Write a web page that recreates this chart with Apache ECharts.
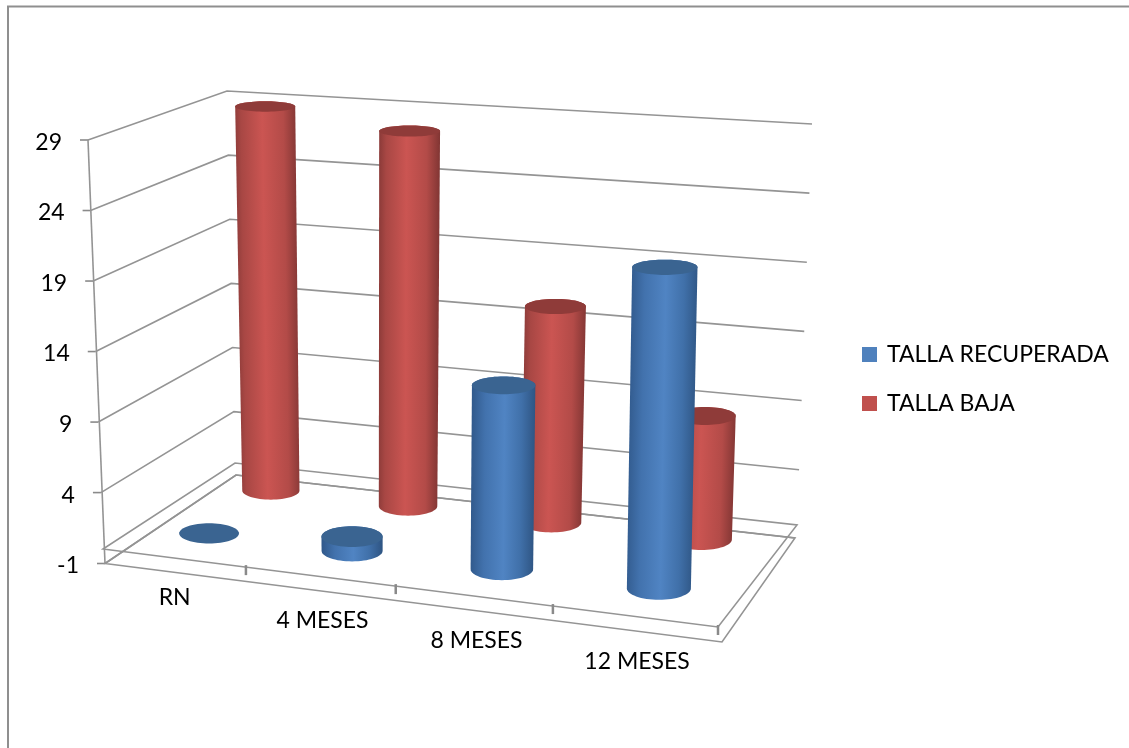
<!DOCTYPE html>
<html>
<head>
<meta charset="utf-8">
<style>html,body{margin:0;padding:0;background:#fff}#chart{width:1129px;height:748px}</style>
<script src="https://cdn.jsdelivr.net/npm/echarts@6/dist/echarts.min.js"></script>
</head>
<body>
<div id="chart"></div>
<script>
// Chart data
const categories = ['RN', '4 MESES', '8 MESES', '12 MESES'];
const tallaRecuperada = [0, 1, 12.7, 21.7];
const tallaBaja = [29, 27.8, 15.7, 8.8];
const valueTicks = [-1, 4, 9, 14, 19, 24, 29];

// Box of the 3D plot: corners in the order front-left, front-right, back-right, back-left.
const planeBottom = [[105, 563.5], [722, 642], [795, 538], [236, 475]];  // value -1
const planeFloor = [[103, 549], [718, 627], [797, 525], [235, 463]];     // value 0
const planeCeiling = [[88, 140], [725, 180], [812, 124], [227, 91]];     // value 29

// Depth of each series row and cylinder radius, in box units.
const rowBlue = 0.26, rowRed = 0.75;
const radiusAcross = 0.0515, radiusDepth = 0.11;

// Vertical distance of each category label below the front edge of the slab.
const categoryLabelDrop = [25, 29, 30, 30];

const FONT = 'Lato';
const FONT_SIZE = 23;
const LINE = '#949494';
const TICK = '#8a8a8a';

// Square-to-quad projective mapping.
function quadMap(q) {
  const [[x0, y0], [x1, y1], [x2, y2], [x3, y3]] = q;
  const dx1 = x1 - x2, dx2 = x3 - x2, sx = x0 - x1 + x2 - x3;
  const dy1 = y1 - y2, dy2 = y3 - y2, sy = y0 - y1 + y2 - y3;
  const den = dx1 * dy2 - dx2 * dy1;
  const g = (sx * dy2 - dx2 * sy) / den, h = (dx1 * sy - sx * dy1) / den;
  const a = x1 - x0 + g * x1, b = x3 - x0 + h * x3;
  const d = y1 - y0 + g * y1, e = y3 - y0 + h * y3;
  return (u, w) => {
    const k = g * u + h * w + 1;
    return [(a * u + b * w + x0) / k, (d * u + e * w + y0) / k];
  };
}
const mapBottom = quadMap(planeBottom), mapFloor = quadMap(planeFloor), mapCeiling = quadMap(planeCeiling);
const lerp = (p, q, s) => [p[0] + (q[0] - p[0]) * s, p[1] + (q[1] - p[1]) * s];

// Reads the axes of the hidden grid and returns a projector (u across, w depth, value).
function projector(params, api) {
  const cs = params.coordSys;
  const bottom = cs.y + cs.height;
  const level = v => (bottom - api.coord([0, v])[1]) / cs.height;
  const t0 = level(0);
  const project = (u, w, v) => {
    const t = level(v);
    return t >= t0
      ? lerp(mapFloor(u, w), mapCeiling(u, w), (t - t0) / (1 - t0))
      : lerp(mapBottom(u, w), mapFloor(u, w), t / t0);
  };
  const across = c => (api.coord([c, 0])[0] - cs.x) / cs.width;
  return { project, across };
}

function hull(points) {
  const p = points.slice().sort((a, b) => a[0] - b[0] || a[1] - b[1]);
  const cross = (o, a, b) => (a[0] - o[0]) * (b[1] - o[1]) - (a[1] - o[1]) * (b[0] - o[0]);
  const build = list => {
    const out = [];
    for (const q of list) {
      while (out.length > 1 && cross(out[out.length - 2], out[out.length - 1], q) <= 0) out.pop();
      out.push(q);
    }
    out.pop();
    return out;
  };
  return build(p).concat(build(p.slice().reverse()));
}

function cylinderRenderer(row, stops, capColor) {
  return function (params, api) {
    const { project, across } = projector(params, api);
    const c = api.value(0), v = api.value(1);
    const u = across(c);
    // Cylinder ends are level ellipses sized from the box at that height.
    const ring = value => {
      const m = project(u, row, value);
      const local = Math.abs(project(u + radiusAcross, row, value)[0] - project(u - radiusAcross, row, value)[0]) / 2;
      const overall = radiusAcross * Math.abs(project(1, row, value)[0] - project(0, row, value)[0]);
      const rx = (local + overall) / 2;
      const ry = Math.abs(project(u, row + radiusDepth, value)[1] - project(u, row - radiusDepth, value)[1]) / 2;
      const pts = [];
      for (let i = 0; i < 64; i++) {
        const a = i / 64 * Math.PI * 2;
        pts.push([m[0] + rx * Math.cos(a), m[1] + ry * Math.sin(a)]);
      }
      return pts;
    };
    const base = ring(0), top = ring(v);
    const children = [];
    if (v > 0) {
      const all = base.concat(top);
      const a = project(u, row, 0), b = project(u, row, v);
      const len = Math.hypot(b[0] - a[0], b[1] - a[1]);
      // Shading runs across the cylinder, from its left side to its right side.
      let ex = (b[1] - a[1]) / len, ey = -(b[0] - a[0]) / len;
      if (ex < 0) { ex = -ex; ey = -ey; }
      const half = (Math.max(...all.map(p => p[0])) - Math.min(...all.map(p => p[0]))) / 2;
      const m = lerp(a, b, 0.5);
      children.push({
        type: 'polygon',
        shape: { points: hull(all) },
        style: {
          fill: new echarts.graphic.LinearGradient(
            m[0] - ex * half, m[1] - ey * half, m[0] + ex * half, m[1] + ey * half, stops, true)
        }
      });
    }
    children.push({ type: 'polygon', shape: { points: top }, style: { fill: capColor } });
    return { type: 'group', children };
  };
}

// Walls and value labels: one row per tick value.
function renderWalls(params, api) {
  const { project } = projector(params, api);
  const v = api.value(1);
  const fl = project(0, 0, v), bl = project(0, 1, v), br = project(1, 1, v);
  const children = [
    { type: 'polyline', shape: { points: [fl, bl, br] }, style: { stroke: LINE, lineWidth: 1.6, fill: null } },
    { type: 'line', shape: { x1: fl[0] - 8, y1: fl[1], x2: fl[0], y2: fl[1] }, style: { stroke: TICK, lineWidth: 1.6 } },
    { type: 'text', style: { text: String(v), x: fl[0] - 26, y: fl[1] + 2.5, align: 'right', verticalAlign: 'middle',
        fontFamily: FONT, fontSize: FONT_SIZE, fill: '#000' } }
  ];
  return { type: 'group', children };
}

// Floor slab, value-axis line, category ticks and labels: one row per category.
function renderFloor(params, api) {
  const { project, across } = projector(params, api);
  const c = api.value(0);
  const children = [];
  if (params.dataIndex === 0) {
    [-1, 0].forEach(v => {
      const pts = [project(0, 0, v), project(1, 0, v), project(1, 1, v), project(0, 1, v)];
      children.push({ type: 'polygon', shape: { points: pts }, style: { stroke: LINE, lineWidth: 1.6, fill: null } });
    });
    const a = project(0, 0, -1), b = project(0, 0, 29);
    children.push({ type: 'line', shape: { x1: a[0], y1: a[1], x2: b[0], y2: b[1] }, style: { stroke: LINE, lineWidth: 1.6 } });
  }
  const edge = project(across(c) + across(0), 0, 0);
  children.push({ type: 'line', shape: { x1: edge[0], y1: edge[1] - 2, x2: edge[0], y2: edge[1] + 8 },
    style: { stroke: TICK, lineWidth: 2.5 } });
  const anchor = project(across(c), 0, -1);
  children.push({ type: 'text', style: { text: categories[c], x: anchor[0] - 2, y: anchor[1] + categoryLabelDrop[c],
    align: 'center', verticalAlign: 'middle', fontFamily: FONT, fontSize: FONT_SIZE, fill: '#000' } });
  return { type: 'group', children };
}

const redStops = [
  { offset: 0, color: '#8a3a38' }, { offset: 0.12, color: '#a84744' }, { offset: 0.45, color: '#cb5552' },
  { offset: 0.78, color: '#b34b48' }, { offset: 1, color: '#803533' }
];
const blueStops = [
  { offset: 0, color: '#30588a' }, { offset: 0.22, color: '#4272ad' }, { offset: 0.52, color: '#5084c3' },
  { offset: 0.78, color: '#4070a9' }, { offset: 1, color: '#2e5482' }
];

const chart = echarts.init(document.getElementById('chart'), null, { renderer: 'canvas' });
chart.setOption({
  animation: false,
  backgroundColor: '#fff',
  grid: { left: 88, top: 141, width: 630, height: 422 },
  xAxis: { type: 'category', data: categories, show: false },
  yAxis: { type: 'value', min: -1, max: 29, show: false },
  legend: {
    data: ['TALLA RECUPERADA', 'TALLA BAJA'],
    orient: 'vertical', left: 857, top: 338,
    icon: 'rect', itemWidth: 15, itemHeight: 15, itemGap: 26,
    textStyle: { fontFamily: FONT, fontSize: FONT_SIZE, color: '#000', padding: [0, 0, 0, 5] },
    selectedMode: false
  },
  graphic: [{
    type: 'polyline', silent: true,
    shape: { points: [[8, 748], [8, 6.5], [1129, 6.5]] },
    style: { stroke: '#8f8f8f', lineWidth: 2, fill: null }
  }],
  series: [
    { type: 'custom', name: 'paredes', silent: true, renderItem: renderWalls,
      data: valueTicks.map(v => [0, v]), encode: { x: 0, y: 1 } },
    { type: 'custom', name: 'suelo', silent: true, renderItem: renderFloor,
      data: categories.map((c, i) => [i, 0]), encode: { x: 0, y: 1 } },
    { type: 'custom', name: 'TALLA BAJA', itemStyle: { color: '#c0504d' },
      renderItem: cylinderRenderer(rowRed, redStops, '#8f3b39'),
      data: tallaBaja.map((v, i) => [i, v]), encode: { x: 0, y: 1 } },
    { type: 'custom', name: 'TALLA RECUPERADA', itemStyle: { color: '#4f81bd' },
      renderItem: cylinderRenderer(rowBlue, blueStops, '#3a6491'),
      data: tallaRecuperada.map((v, i) => [i, v]), encode: { x: 0, y: 1 } }
  ]
});
</script>
</body>
</html>
